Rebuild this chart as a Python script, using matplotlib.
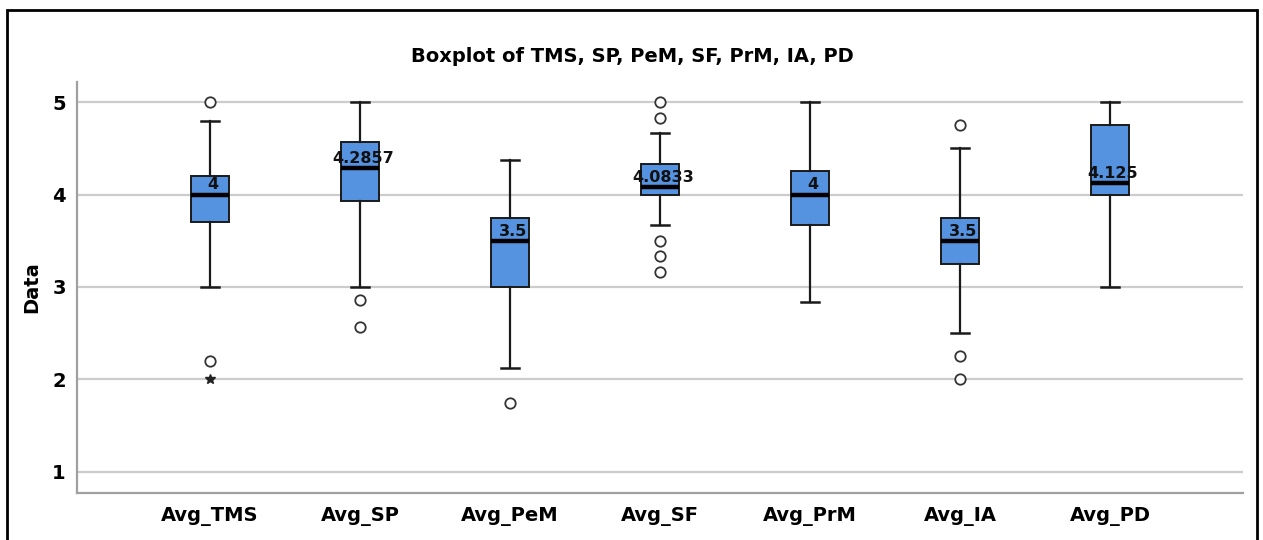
import matplotlib
matplotlib.use("Agg")
import matplotlib.pyplot as plt
from matplotlib import font_manager
from matplotlib.patches import Rectangle

# ── data ───────────────────────────────────────────────────────────────────
labels = ["Avg_TMS", "Avg_SP", "Avg_PeM", "Avg_SF", "Avg_PrM", "Avg_IA", "Avg_PD"]
medians = [4.0, 4.2857, 3.5, 4.0833, 4.0, 3.5, 4.125]
q1s = [3.70, 3.93, 3.0, 4.0, 3.667, 3.25, 4.0]
q3s = [4.20, 4.57, 3.75, 4.333, 4.25, 3.75, 4.75]
whis_lo = [3.0, 3.0, 2.125, 3.667, 2.833, 2.5, 3.0]
whis_hi = [4.8, 5.0, 4.375, 4.667, 5.0, 4.5, 5.0]
outliers = [
    [5.0, 2.2],
    [2.857, 2.571],
    [1.75],
    [5.0, 4.833, 3.5, 3.333, 3.167],
    [],
    [4.75, 2.25, 2.0],
    [],
]
extremes = [[2.0], [], [], [], [], [], []]
median_text = ["4", "4.2857", "3.5", "4.0833", "4", "3.5", "4.125"]

BOX_FILL = "#5592e0"
EDGE = "#1a1a1a"
GRID = "#cccccc"

plt.rcParams["font.family"] = ["DejaVu Sans"]

# condensed face for the median labels, if one is installed
installed = {f.name for f in font_manager.fontManager.ttflist}
if "Liberation Sans Narrow" in installed:
    lab_family, lab_size = "Liberation Sans Narrow", 14
elif "DejaVu Sans Condensed" in installed:
    lab_family, lab_size = "DejaVu Sans Condensed", 12
else:
    lab_family, lab_size = "DejaVu Sans", 11.5

fig = plt.figure(figsize=(12.63, 5.4), dpi=100)
ax = fig.add_axes([77 / 1263, 1 - 493 / 540, (1243 - 77) / 1263, (493 - 82) / 540])

stats = []
for i, lab in enumerate(labels):
    stats.append({
        "label": lab,
        "med": medians[i],
        "q1": q1s[i],
        "q3": q3s[i],
        "whislo": whis_lo[i],
        "whishi": whis_hi[i],
        "fliers": outliers[i],
    })

pos = list(range(len(labels)))
ax.bxp(
    stats, positions=pos, widths=0.25, capwidths=0.12, patch_artist=True,
    boxprops=dict(facecolor=BOX_FILL, edgecolor=EDGE, linewidth=1.4),
    medianprops=dict(color="black", linewidth=3.2),
    whiskerprops=dict(color=EDGE, linewidth=1.6),
    capprops=dict(color=EDGE, linewidth=1.8),
    flierprops=dict(marker="o", markerfacecolor="white", markeredgecolor="#333333",
                    markersize=7.5, markeredgewidth=1.3),
    zorder=3,
)

for i, ext in enumerate(extremes):
    if ext:
        ax.plot([pos[i]] * len(ext), ext, linestyle="none", marker="*",
                color="#222222", markersize=7.5, zorder=4)

for i, txt in enumerate(median_text):
    ax.annotate(txt, (pos[i], medians[i]), xytext=(2, 1.5), textcoords="offset points",
                ha="center", va="bottom", fontsize=lab_size, fontweight="bold",
                family=[lab_family, "DejaVu Sans"], color="#111111", zorder=5)

ax.set_xlim(-0.887, 6.887)
ax.set_ylim(0.772, 5.217)
ax.set_yticks([1, 2, 3, 4, 5])
ax.yaxis.grid(True, color=GRID, linewidth=1.6, zorder=0)
ax.set_axisbelow(True)
ax.tick_params(axis="x", length=0, labelsize=14, pad=10)
ax.tick_params(axis="y", length=0, labelsize=14, pad=8)
for t in ax.get_xticklabels() + ax.get_yticklabels():
    t.set_fontweight("bold")
ax.set_ylabel("Data", fontsize=14, fontweight="bold", labelpad=8)

for side in ("top", "right"):
    ax.spines[side].set_visible(False)
for side in ("left", "bottom"):
    ax.spines[side].set_color("#a0a0a0")
    ax.spines[side].set_linewidth(1.6)

fig.text(632 / 1263, 1 - 57 / 540, "Boxplot of TMS, SP, PeM, SF, PrM, IA, PD",
         ha="center", va="center", fontsize=14, fontweight="bold")

# outer frame (SPSS output border)
fig.patches.append(Rectangle((7 / 1263, -0.05), (1257 - 7) / 1263, 1.05 - 10 / 540,
                             transform=fig.transFigure, fill=False,
                             edgecolor="black", linewidth=2))

fig.savefig("out.png", dpi=100, facecolor="white")
